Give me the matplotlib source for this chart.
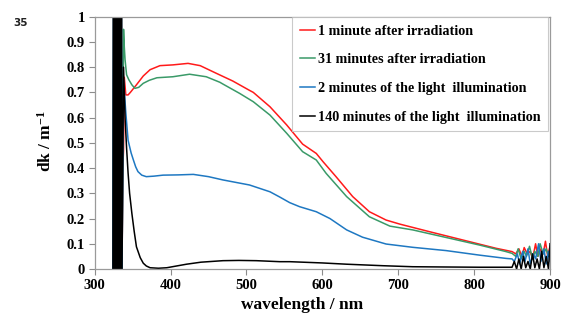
import matplotlib
matplotlib.use("Agg")
import matplotlib.pyplot as plt

plt.rcParams["mathtext.fontset"] = "custom"
plt.rcParams["mathtext.rm"] = "Liberation Serif:bold"
plt.rcParams["mathtext.bf"] = "Liberation Serif:bold"
plt.rcParams["mathtext.default"] = "bf"

# ---- data ----
red_wl = [324, 325, 326, 327, 328, 329, 330, 331, 332, 333, 334, 335, 336, 337, 338, 339, 341, 344, 347,
          355, 364, 373, 386, 403, 423, 439, 460, 482, 504, 509, 531, 553, 574, 592, 601, 618, 640,
          662, 684, 702, 741, 785, 829, 850, 855, 859, 863, 866, 870, 874, 877, 881, 884, 888, 891,
          894, 897, 900]
red_val = [0.0, 1.5, 0.0, 1.5, 0.0, 1.5, 0.0, 1.5, 0.0, 1.5, 0.0, 1.5, 0.0, 0.40, 0.47, 0.76, 0.69, 0.69, 0.70,
           0.73, 0.765, 0.79, 0.806, 0.809, 0.815, 0.806, 0.776, 0.745, 0.708, 0.700, 0.643, 0.571, 0.495, 0.458, 0.425, 0.366, 0.287,
           0.227, 0.194, 0.178, 0.148, 0.115, 0.082, 0.069, 0.06, 0.08, 0.05, 0.085, 0.06, 0.07, 0.04, 0.10, 0.05, 0.08, 0.06,
           0.11, 0.05, 0.09]

green_wl = [324, 325, 326, 327, 328, 329, 330, 331, 332, 333, 334, 335, 336, 338, 339, 340, 342, 345, 349, 353,
            358, 364, 372, 382, 403, 425, 447, 465, 469, 491, 509, 531, 553, 574, 592, 605, 632,
            662, 689, 719, 763, 807, 842, 850, 855, 858, 862, 866, 869, 873, 877, 880, 884, 887, 891, 895, 898, 900]
green_val = [0.0, 1.5, 0.0, 1.5, 0.0, 1.5, 0.0, 1.5, 0.0, 1.5, 0.0, 1.5, 0.0, 0.95, 0.88, 0.83, 0.77, 0.75, 0.73, 0.716,
             0.72, 0.736, 0.748, 0.758, 0.762, 0.772, 0.762, 0.740, 0.733, 0.696, 0.663, 0.610, 0.538, 0.465, 0.432, 0.379, 0.287,
             0.207, 0.170, 0.155, 0.125, 0.095, 0.069, 0.062, 0.05, 0.08, 0.04, 0.07, 0.05, 0.09, 0.04, 0.07, 0.05, 0.10, 0.06, 0.08, 0.05, 0.07]

blue_wl = [324, 325, 326, 327, 328, 329, 330, 331, 332, 333, 334, 335, 336, 338, 341, 344, 348, 351, 354, 357,
           362, 368, 378, 390, 410, 430, 450, 469, 504, 531, 544, 557, 570, 592, 610, 632, 653,
           684, 719, 763, 807, 842, 850, 853, 857, 860, 864, 867, 871, 874, 878, 881, 885, 888, 892, 895, 898, 900]
blue_val = [0.0, 1.5, 0.0, 1.5, 0.0, 1.5, 0.0, 1.5, 0.0, 1.5, 0.0, 1.5, 0.0, 0.75, 0.62, 0.51, 0.46, 0.432, 0.405, 0.386,
            0.372, 0.366, 0.368, 0.372, 0.373, 0.375, 0.366, 0.353, 0.333, 0.306, 0.285, 0.263, 0.247, 0.227, 0.200, 0.155, 0.126,
            0.099, 0.086, 0.073, 0.055, 0.042, 0.040, 0.03, 0.06, 0.02, 0.07, 0.03, 0.08, 0.02, 0.06, 0.04, 0.10, 0.03, 0.08, 0.02, 0.07, 0.03]

black_wl = [324, 325, 326, 327, 328, 329, 330, 331, 332, 333, 334, 335, 336, 338, 340, 342, 344, 346, 349, 352,
            355, 360, 364, 368, 373, 384, 395, 408, 421, 440, 469, 490, 513, 544, 557, 600, 632,
            680, 719, 760, 807, 840, 850, 853, 856, 859, 862, 865, 868, 871, 874, 877, 880, 883, 886, 889,
            892, 895, 898, 900]
black_val = [0.0, 1.5, 0.0, 1.5, 0.0, 1.5, 0.0, 1.5, 0.0, 1.5, 0.0, 1.5, 0.0, 0.80, 0.60, 0.48, 0.38, 0.30, 0.22, 0.15,
             0.088, 0.045, 0.023, 0.012, 0.005, 0.003, 0.005, 0.012, 0.019, 0.027, 0.033, 0.034, 0.033, 0.029, 0.029, 0.024, 0.019,
             0.013, 0.009, 0.008, 0.007, 0.007, 0.007, 0.03, 0.0, 0.04, 0.0, 0.05, 0.005, 0.03, 0.0, 0.06, 0.005, 0.04, 0.0, 0.07,
             0.005, 0.05, 0.0, 0.10]

labels = ["1 minute after irradiation",
          "31 minutes after irradiation",
          "2 minutes of the light  illumination",
          "140 minutes of the light  illumination"]
colors = ["#ff1a1a", "#3a9a68", "#1e78c2", "#000000"]

x_ticks = [300, 400, 500, 600, 700, 800, 900]
y_ticks = [0, 0.1, 0.2, 0.3, 0.4, 0.5, 0.6, 0.7, 0.8, 0.9, 1.0]
y_tick_labels = ["0", "0.1", "0.2", "0.3", "0.4", "0.5", "0.6", "0.7", "0.8", "0.9", "1"]

# ---- figure ----
fig = plt.figure(figsize=(5.66, 3.2), dpi=100)
ax = fig.add_axes([94.7 / 566, 1 - 269 / 320, (550 - 94.7) / 566, (269 - 16.7) / 320])

series = [(red_wl, red_val), (green_wl, green_val), (blue_wl, blue_val), (black_wl, black_val)]
for (wl, val), lab, col in zip(series, labels, colors):
    ax.plot(wl, val, color=col, lw=1.1, label=lab)

ax.set_xlim(300, 900)
ax.set_ylim(0, 1)
ax.set_xticks(x_ticks)
ax.set_yticks(y_ticks)
ax.set_yticklabels(y_tick_labels)

serif = "Liberation Serif"
for lbl in ax.get_xticklabels() + ax.get_yticklabels():
    lbl.set_fontfamily(serif)
    lbl.set_fontweight("bold")
    lbl.set_fontsize(10.5)

ax.tick_params(direction="out", length=4, width=0.8, color="#8c8c8c", pad=3)
for s in ax.spines.values():
    s.set_color("#9a9a9a")
    s.set_linewidth(0.9)

fig.text(302 / 566, 1 - 305 / 320, "wavelength / nm", family=serif, weight="bold",
         fontsize=12.5, ha="center", va="center")
fig.text(46 / 566, 1 - 141 / 320, r"dk / m$^{-1}$", family=serif, weight="bold",
         fontsize=12.5, ha="center", va="center", rotation=90)
fig.text(13 / 566, 1 - 23 / 320, "35", family="DejaVu Sans", weight="bold",
         fontsize=7.5, ha="left", va="center", color="#222222")

leg = ax.legend(loc="upper right", bbox_to_anchor=(548 / 566, 1 - 17 / 320),
                bbox_transform=fig.transFigure, frameon=True, fancybox=False,
                prop={"family": serif, "weight": "bold", "size": 10.2},
                handlelength=1.1, handletextpad=0.15, labelspacing=1.1,
                borderpad=0.55, borderaxespad=0)
leg.get_frame().set_edgecolor("#bdbdbd")
leg.get_frame().set_linewidth(0.8)

fig.savefig("out.png", dpi=100)
